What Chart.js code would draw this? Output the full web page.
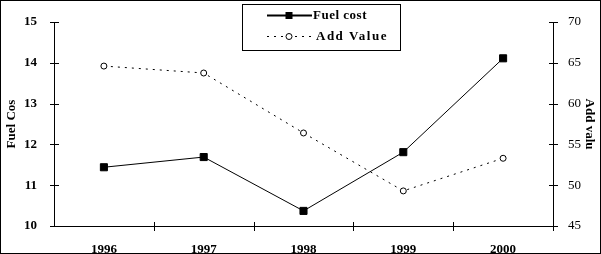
<!DOCTYPE html>
<html>
<head>
<meta charset="utf-8">
<script src="https://cdn.jsdelivr.net/npm/chart.js@4"></script>
<style>
  html, body { margin: 0; padding: 0; background: #fff; }
  #wrap { width: 601px; height: 254px; }
</style>
</head>
<body>
<div id="wrap"><canvas id="chart" width="601" height="254"></canvas></div>
<script>
// data
const years = ["1996", "1997", "1998", "1999", "2000"];
const fuelCost = [11.44, 11.69, 10.37, 11.81, 14.11];
const addValue = [64.6, 63.75, 56.4, 49.3, 53.3];

const FONT = "'Liberation Serif', 'Times New Roman', serif";

// outer frame
const framePlugin = {
  id: "frame",
  beforeDraw(chart) {
    const ctx = chart.ctx;
    ctx.save();
    ctx.fillStyle = "#fff";
    ctx.fillRect(0, 0, chart.width, chart.height);
    ctx.strokeStyle = "#000";
    ctx.lineWidth = 1;
    ctx.strokeRect(0.5, 0.5, chart.width - 1, chart.height - 1);
    ctx.restore();
  }
};

// tick marks that cross the axis lines
const crossTicks = {
  id: "crossTicks",
  afterDraw(chart) {
    const ctx = chart.ctx;
    const s = chart.scales;
    ctx.save();
    ctx.strokeStyle = "#000";
    ctx.lineWidth = 1;
    ctx.beginPath();
    const len = 4;
    // y axes
    [["y", s.y.right], ["y1", s.y1.left]].forEach(([id, ax]) => {
      const sc = s[id];
      sc.ticks.forEach(t => {
        const py = Math.round(sc.getPixelForValue(t.value)) + 0.5;
        ctx.moveTo(Math.round(ax) - len, py);
        ctx.lineTo(Math.round(ax) + len + 1, py);
      });
    });
    // x axis: ticks between categories
    const x = s.x;
    const ay = Math.round(x.top);
    for (let i = 0; i < years.length; i++) {
      const a = x.getPixelForValue(i);
      const b = i < years.length - 1 ? x.getPixelForValue(i + 1) : x.right + (x.right - a);
      const px = Math.round((a + b) / 2) + 0.5;
      ctx.moveTo(px, ay - len);
      ctx.lineTo(px, ay + len + 1);
    }
    ctx.stroke();
    ctx.restore();
  }
};

// boxed legend like the original
const boxLegend = {
  id: "boxLegend",
  afterDraw(chart) {
    const ctx = chart.ctx;
    ctx.save();
    ctx.strokeStyle = "#000";
    ctx.lineWidth = 1;
    ctx.strokeRect(242.5, 4.5, 158, 46);
    const rows = [15.5, 36.5];
    chart.data.datasets.forEach((ds, i) => {
      const y = rows[i];
      ctx.beginPath();
      ctx.setLineDash(ds.borderDash || []);
      ctx.strokeStyle = ds.borderColor;
      ctx.lineWidth = i === 0 ? 2 : 1;
      ctx.moveTo(267, y);
      ctx.lineTo(312, y);
      ctx.stroke();
      ctx.setLineDash([]);
      ctx.lineWidth = 1;
      ctx.fillStyle = ds.pointBackgroundColor;
      ctx.strokeStyle = ds.borderColor;
      ctx.beginPath();
      if (ds.pointStyle === "rect") {
        ctx.fillRect(285.5, y - 3.5, 7, 7);
      } else {
        ctx.arc(289, y, ds.pointRadius, 0, Math.PI * 2);
        ctx.fill();
        ctx.stroke();
      }
      ctx.fillStyle = "#000";
      ctx.font = "bold 13px " + FONT;
      ctx.textBaseline = "middle";
      ctx.textAlign = "left";
      ctx.letterSpacing = i === 0 ? "0.5px" : "1.5px";
      ctx.fillText(ds.label, i === 0 ? 313 : 316, y);
    });
    ctx.restore();
  }
};

new Chart(document.getElementById("chart"), {
  type: "line",
  data: {
    labels: years,
    datasets: [
      {
        label: "Fuel cost",
        data: fuelCost,
        yAxisID: "y",
        borderColor: "#000",
        borderWidth: 1,
        pointStyle: "rect",
        pointRadius: 5,
        pointBackgroundColor: "#000",
        pointBorderColor: "#000",
        tension: 0
      },
      {
        label: "Add Value",
        data: addValue,
        yAxisID: "y1",
        borderColor: "#000",
        borderWidth: 1,
        borderDash: [2, 5],
        pointStyle: "circle",
        pointRadius: 3,
        pointBackgroundColor: "#fff",
        pointBorderColor: "#000",
        pointBorderWidth: 1,
        tension: 0
      }
    ]
  },
  options: {
    responsive: false,
    animation: false,
    devicePixelRatio: 1,
    layout: { padding: { top: 22, left: 0, right: 0, bottom: 0 } },
    plugins: {
      legend: { display: false },
      tooltip: { enabled: false }
    },
    scales: {
      x: {
        type: "category",
        offset: true,
        grid: { display: false },
        border: { display: true, color: "#000", width: 1 },
        ticks: { color: "#000", padding: 8, font: { family: FONT, size: 13, weight: "bold" } },
        afterFit(sc) { sc.height = 28; }
      },
      y: {
        position: "left",
        min: 10,
        max: 15,
        grid: { display: false },
        border: { display: true, color: "#000", width: 1 },
        ticks: { stepSize: 1, color: "#000", padding: 9, font: { family: FONT, size: 13, weight: "bold" } },
        title: {
          display: true,
          text: "Fuel Cos",
          color: "#000",
          padding: { top: 4, bottom: 0 },
          font: { family: FONT, size: 13, weight: "bold" }
        },
        afterFit(sc) { sc.width = 54; }
      },
      y1: {
        position: "right",
        min: 45,
        max: 70,
        grid: { display: false },
        border: { display: true, color: "#000", width: 1 },
        ticks: { stepSize: 5, color: "#000", padding: 7, font: { family: FONT, size: 13 } },
        title: {
          display: true,
          text: "Add valu",
          color: "#000",
          padding: { top: 4, bottom: 0 },
          font: { family: FONT, size: 13, weight: "bold" }
        },
        afterFit(sc) { sc.width = 48; }
      }
    }
  },
  plugins: [framePlugin, crossTicks, boxLegend]
});
</script>
</body>
</html>
